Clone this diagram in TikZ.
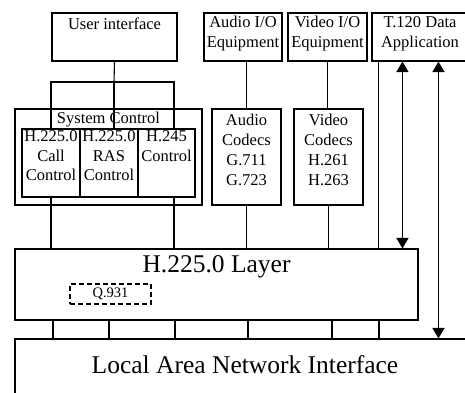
\documentclass[tikz,border=0pt]{standalone}
\usepackage{fontspec}
\setmainfont{Liberation Serif}
\usetikzlibrary{positioning,arrows.meta}

\begin{document}
\begin{tikzpicture}[x=1pt, y=-1pt, line width=1.1pt,
  box/.style={draw, inner sep=0pt},
  txt/.style={align=center, inner sep=1pt, font=\fontsize{16.5}{19.7}\selectfont},
  big/.style={inner sep=0pt, font=\fontsize{25.5}{30}\selectfont},
  >={Triangle[length=10.5pt,width=12pt]}]
  \useasboundingbox (0,0) rectangle (465,392);
  \clip (0,0) rectangle (465,392);

  % top row
  \node[box, minimum width=125, minimum height=48] (ui) at (114.5,37) {};
  \node[txt, below=3.5pt of ui.north] (uit) {User interface};
  \node[box, minimum width=78, minimum height=48] (aio) at (243,37) {};
  \node[txt, below=2.5pt of aio.north] (aiot) {Audio I/O\\Equipment};
  \node[box, minimum width=79, minimum height=48] (vio) at (327.5,37) {};
  \node[txt, below=2.5pt of vio.north] (viot) {Video I/O\\Equipment};
  \node[box, minimum width=96, minimum height=48] (t120) at (420,37) {};
  \node[txt, below=2.5pt of t120.north] (t120t) {T.120 Data\\Application};

  % control and codecs
  \node[box, minimum width=187, minimum height=96] (sys) at (108.5,157) {};
  \node[txt, below=2.5pt of sys.north] (syst) {System Control};
  \node[box, minimum width=58, minimum height=68] (call) at (51,163) {};
  \node[txt, below=0.5pt of call.north] (callt) {H.225.0\\Call\\Control};
  \node[box, minimum width=58, minimum height=68] (ras) at (109,163) {};
  \node[txt, below=0.5pt of ras.north] (rast) {H.225.0\\RAS\\Control};
  \node[box, minimum width=57, minimum height=68] (h245) at (166.5,163) {};
  \node[txt, below=0.5pt of h245.north] (h245t) {H.245\\Control};
  \node[box, minimum width=69, minimum height=96] (acod) at (246.5,157) {};
  \node[txt, below=4.5pt of acod.north] (acodt) {Audio\\Codecs\\G.711\\G.723};
  \node[box, minimum width=69, minimum height=96] (vcod) at (328.5,157) {};
  \node[txt, below=4.5pt of vcod.north] (vcodt) {Video\\Codecs\\H.261\\H.263};

  % layers
  \node[box, minimum width=403, minimum height=71] (h225) at (216.5,284.5) {};
  \node[big] (h225t) at (216.5,267) {H.225.0 Layer};
  \node[box, dash pattern=on 5pt off 3pt, minimum width=81, minimum height=20,
    font=\fontsize{14.5}{16}\selectfont] (q931) at (110.5,294) {Q.931};
  \node[box, minimum width=461, minimum height=61] (lan) at (245.5,369.5) {};
  \node[big] (lant) at (245,364.5) {Local Area Network Interface};

  % connections
  \coordinate (split) at (114,82);
  \draw (ui.south) -- (split);
  \draw (call.north) |- (split) -| ([xshift=7.5pt]h245.north);
  \draw (split) -- (split |- ras.north);
  \draw (call.south) -- (call.south |- h225.north);
  \draw ([xshift=7.5pt]h245.south) -- ([xshift=7.5pt]h245.south |- h225.north);
  \draw (acod.north) -- (acod.north |- aio.south);
  \draw (acod.south) -- (acod.south |- h225.north);
  \draw (vio.south) -- (vio.south |- vcod.north);
  \draw (vcod.south) -- (vcod.south |- h225.north);
  \coordinate (t1) at ([xshift=7pt]t120.south west);
  \coordinate (t2) at ([xshift=31pt]t120.south west);
  \coordinate (t3) at ([xshift=67pt]t120.south west);
  \draw (t1) -- (t1 |- h225.north);
  \draw[<->] (t2) -- (t2 |- h225.north);
  \draw[<->] (t3) -- (t3 |- lan.north);
  \foreach \x in {53,109,175,248,332,379}
    \draw (h225.south -| \x,0) -- (lan.north -| \x,0);
\end{tikzpicture}
\end{document}
